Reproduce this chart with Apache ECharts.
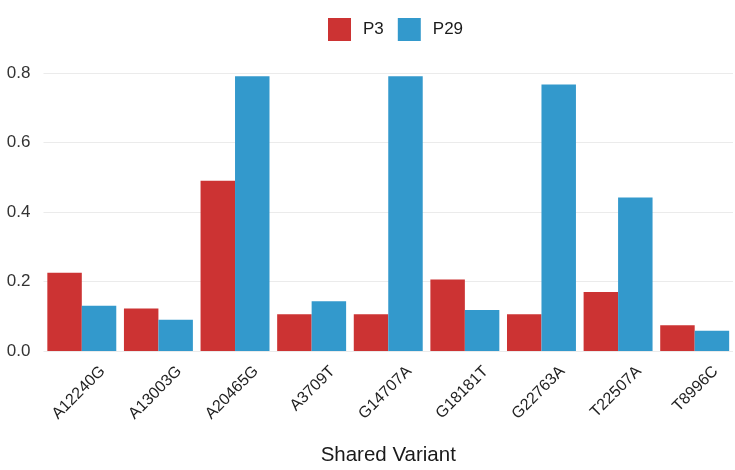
<!DOCTYPE html>
<html>
<head>
<meta charset="utf-8">
<script src="https://cdn.jsdelivr.net/npm/echarts@6/dist/echarts.min.js"></script>
<style>html,body{margin:0;padding:0;background:#fff}#c{width:735px;height:470px}</style>
</head>
<body>
<div id="c"></div>
<script>
const categories = ['A12240G','A13003G','A20465G','A3709T','G14707A','G18181T','G22763A','T22507A','T8996C'];
const p3 = [0.225, 0.122, 0.490, 0.106, 0.106, 0.206, 0.106, 0.170, 0.074];
const p29 = [0.130, 0.090, 0.791, 0.143, 0.791, 0.118, 0.767, 0.442, 0.058];
const seriesNames = ['P3', 'P29'];
const xTitle = 'Shared Variant';

const chart = echarts.init(document.getElementById('c'), null, {renderer: 'canvas'});
const font = 'Liberation Sans, Arial, sans-serif';
chart.setOption({
  animation: false,
  textStyle: {fontFamily: font},
  legend: {
    top: 13, left: 323,
    itemWidth: 23, itemHeight: 23, itemGap: 14,
    icon: 'rect',
    textStyle: {fontSize: 17, color: '#1a1a1a', fontFamily: font, padding: [0, 0, 0, 7]},
    data: seriesNames
  },
  grid: {left: 43.5, right: 2, top: 73, bottom: 119, containLabel: false, outerBoundsMode: 'none'},
  xAxis: {
    type: 'category',
    data: categories,
    name: xTitle,
    nameLocation: 'middle',
    nameGap: 89,
    nameTextStyle: {fontSize: 20.5, color: '#1a1a1a', fontFamily: font},
    axisLine: {show: false},
    axisTick: {show: false},
    axisLabel: {rotate: 45, interval: 0, fontSize: 16, color: '#222', margin: -3,
      verticalAlign: 'top', lineHeight: 59, fontFamily: font},
    splitLine: {show: false}
  },
  yAxis: {
    type: 'value',
    min: 0, max: 0.8, interval: 0.2,
    axisLine: {show: false},
    axisTick: {show: false},
    axisLabel: {fontSize: 17, color: '#333', margin: 13, fontFamily: font,
      formatter: v => v.toFixed(1)},
    splitLine: {lineStyle: {color: '#EBEBEB', width: 1.2}}
  },
  series: [
    {name: seriesNames[0], type: 'bar', data: p3, barGap: '0%', barCategoryGap: '10%',
     itemStyle: {color: '#CC3333'}},
    {name: seriesNames[1], type: 'bar', data: p29, barGap: '0%', barCategoryGap: '10%',
     itemStyle: {color: '#3399CC'}}
  ]
});
</script>
</body>
</html>
